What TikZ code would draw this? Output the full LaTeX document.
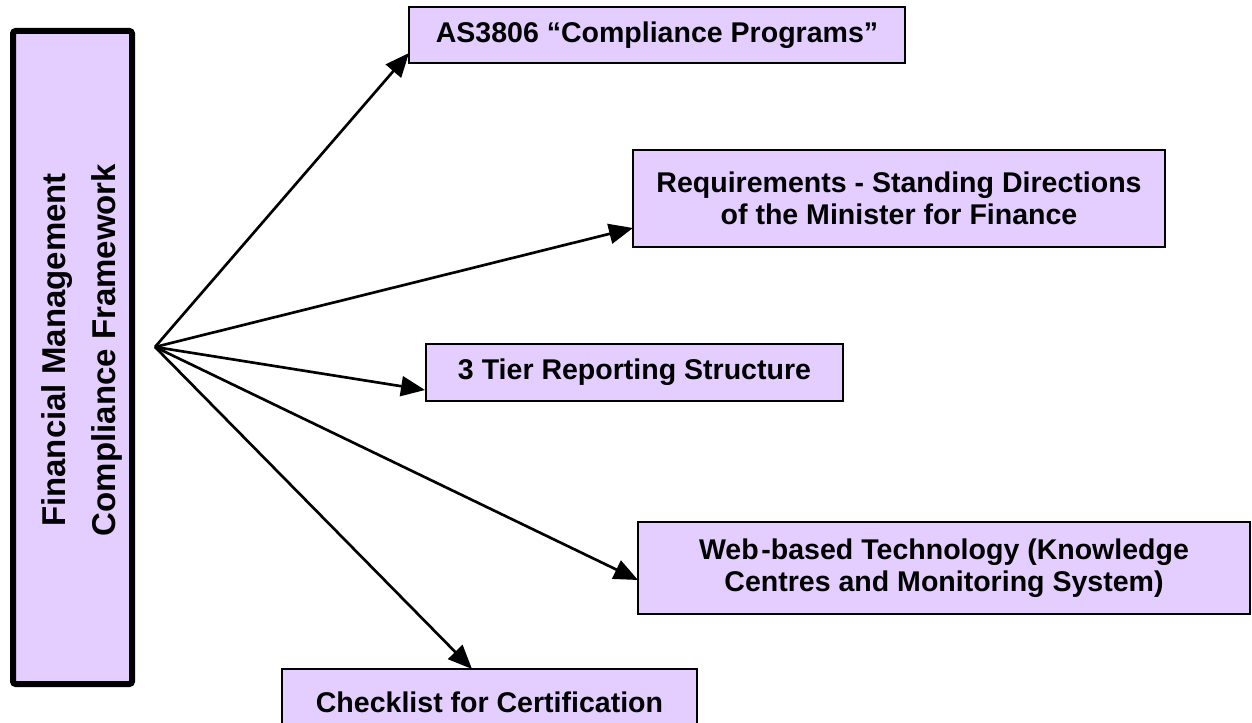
\documentclass[tikz,border=0pt]{standalone}
\usepackage{fontspec}
\setmainfont{Liberation Sans}
\usetikzlibrary{arrows.meta}
\definecolor{boxfill}{RGB}{227,206,255}
\begin{document}
\begin{tikzpicture}[x=0.75pt,y=-0.75pt,
  item/.style={draw=black, line width=1.9pt, fill=boxfill, align=center,
    inner sep=0pt, font=\fontsize{21.4}{24}\selectfont\bfseries},
  frame/.style={draw=black, line width=4.5pt, fill=boxfill, rounded corners=2pt, inner sep=0pt},
  link/.style={line width=2pt, -{Triangle[length=18pt,width=15pt]}}
]
\useasboundingbox (0,0) rectangle (1252,723);

% framework column on the left
\node[frame, minimum width=89.25pt, minimum height=489.75pt] (fmcf) at (72.5,357.5) {};
\node[rotate=90, align=center, font=\fontsize{24.75}{37.5}\selectfont\bfseries] (fmcftext)
  at (82,350) {Financial Management\\Compliance Framework};

% the five components
\node[item, minimum width=372pt, minimum height=42pt] (as) at (657,35)
  {AS3806 “Compliance Programs”};
\node[item, minimum width=399pt, minimum height=72.75pt] (req) at (899,198.5)
  {Requirements - Standing Directions\\of the Minister for Finance};
\node[item, minimum width=312.75pt, minimum height=42.75pt] (tier) at (634.5,372.5)
  {3 Tier Reporting Structure};
\node[item, minimum width=459pt, minimum height=69pt] (web) at (944,568)
  {Web\hspace{2pt}-based Technology (Knowledge\\Centres and Monitoring System)};
\node[item, minimum width=311.25pt, minimum height=50.25pt] (check) at (489.5,702.5)
  {Checklist for Certification};

% fan-out point and arrow ends
\coordinate (hub) at (155,347);
\coordinate (asin) at (409,53);
\coordinate (reqin) at (633,228);
\coordinate (tierin) at (425,390);
\coordinate (webin) at (638,580);
\coordinate (checkin) at (472,669);

\draw[link] (hub) -- (asin);
\draw[link] (hub) -- (reqin);
\draw[link] (hub) -- (tierin);
\draw[link] (hub) -- (webin);
\draw[link] (hub) -- (checkin);
\end{tikzpicture}
\end{document}
